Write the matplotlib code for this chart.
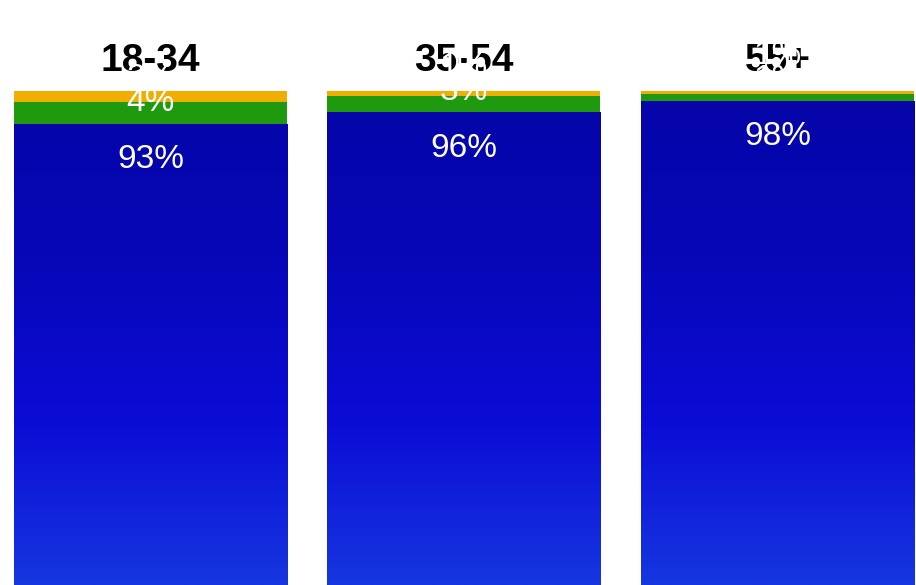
import numpy as np
import matplotlib.pyplot as plt
from matplotlib.colors import LinearSegmentedColormap

plt.rcParams['font.family'] = ['Liberation Sans', 'DejaVu Sans']

# age groups, stacked shares (bottom -> top: blue, green, orange)
groups = ['18-34', '35-54', '55+']
blue_vals = [93.4, 95.7, 98.0]
green_vals = [4.4, 3.3, 1.4]
orange_vals = [2.2, 1.0, 0.6]
blue_labels = ['93%', '96%', '98%']
green_labels = ['4%', '3%', '1%']
orange_labels = ['2%', '1%', '1%']

ORANGE = '#f0ae00'
GREEN = '#1f9a0e'
blue_cmap = LinearSegmentedColormap.from_list(
    'blue_grad', ['#1636e0', '#0b0cd6', '#0707b8', '#0505a8'])

fig = plt.figure(figsize=(9.16, 5.85), dpi=100)
ax = fig.add_axes([0, 0, 1, 494 / 585])

x = np.arange(len(groups))
width = 0.871
blue_bars = ax.bar(x, blue_vals, width, color='none', edgecolor='none')
green_bars = ax.bar(x, green_vals, width, bottom=blue_vals, color=GREEN)
bottom2 = np.array(blue_vals) + np.array(green_vals)
orange_bars = ax.bar(x, orange_vals, width, bottom=bottom2, color=ORANGE)

ax.set_xlim(-0.480, 2.442)
ax.set_ylim(0, 100)
ax.axis('off')

# gradient fill for the blue segments
grad = np.linspace(0, 1, 256).reshape(-1, 1)
for bar in blue_bars:
    im = ax.imshow(grad, extent=(-0.480, 2.442, 0, 100), origin='lower',
                   aspect='auto', cmap=blue_cmap, zorder=1)
    im.set_clip_path(bar)

label_kw = dict(xycoords='data', textcoords='offset pixels', ha='center',
                va='center', color='white', fontsize=24, zorder=6,
                annotation_clip=False)

for i, g in enumerate(groups):
    ax.annotate(g, xy=(i, 100), xytext=(0, 30), textcoords='offset pixels',
                ha='center', va='center', fontsize=28, fontweight='bold',
                color='black', zorder=4, annotation_clip=False)

    # label positions: just inside the segment top, pushed up to avoid overlap
    to_px = lambda v: ax.transData.transform((0, v))[1]
    top_b = to_px(blue_vals[i])
    top_g = to_px(bottom2[i])
    top_o = to_px(bottom2[i] + orange_vals[i])
    lb = top_b - 36
    lg = max(top_g - 36, lb + 57)
    lo = max(top_o - 36, lg + 24)
    ax.annotate(blue_labels[i], xy=(i, blue_vals[i]), xytext=(0, lb - top_b), **label_kw)
    ax.annotate(green_labels[i], xy=(i, bottom2[i]), xytext=(0, lg - top_g), **label_kw)
    ax.annotate(orange_labels[i], xy=(i, bottom2[i] + orange_vals[i]),
                xytext=(0, lo - top_o), **label_kw)

fig.savefig('out.png', dpi=100)
